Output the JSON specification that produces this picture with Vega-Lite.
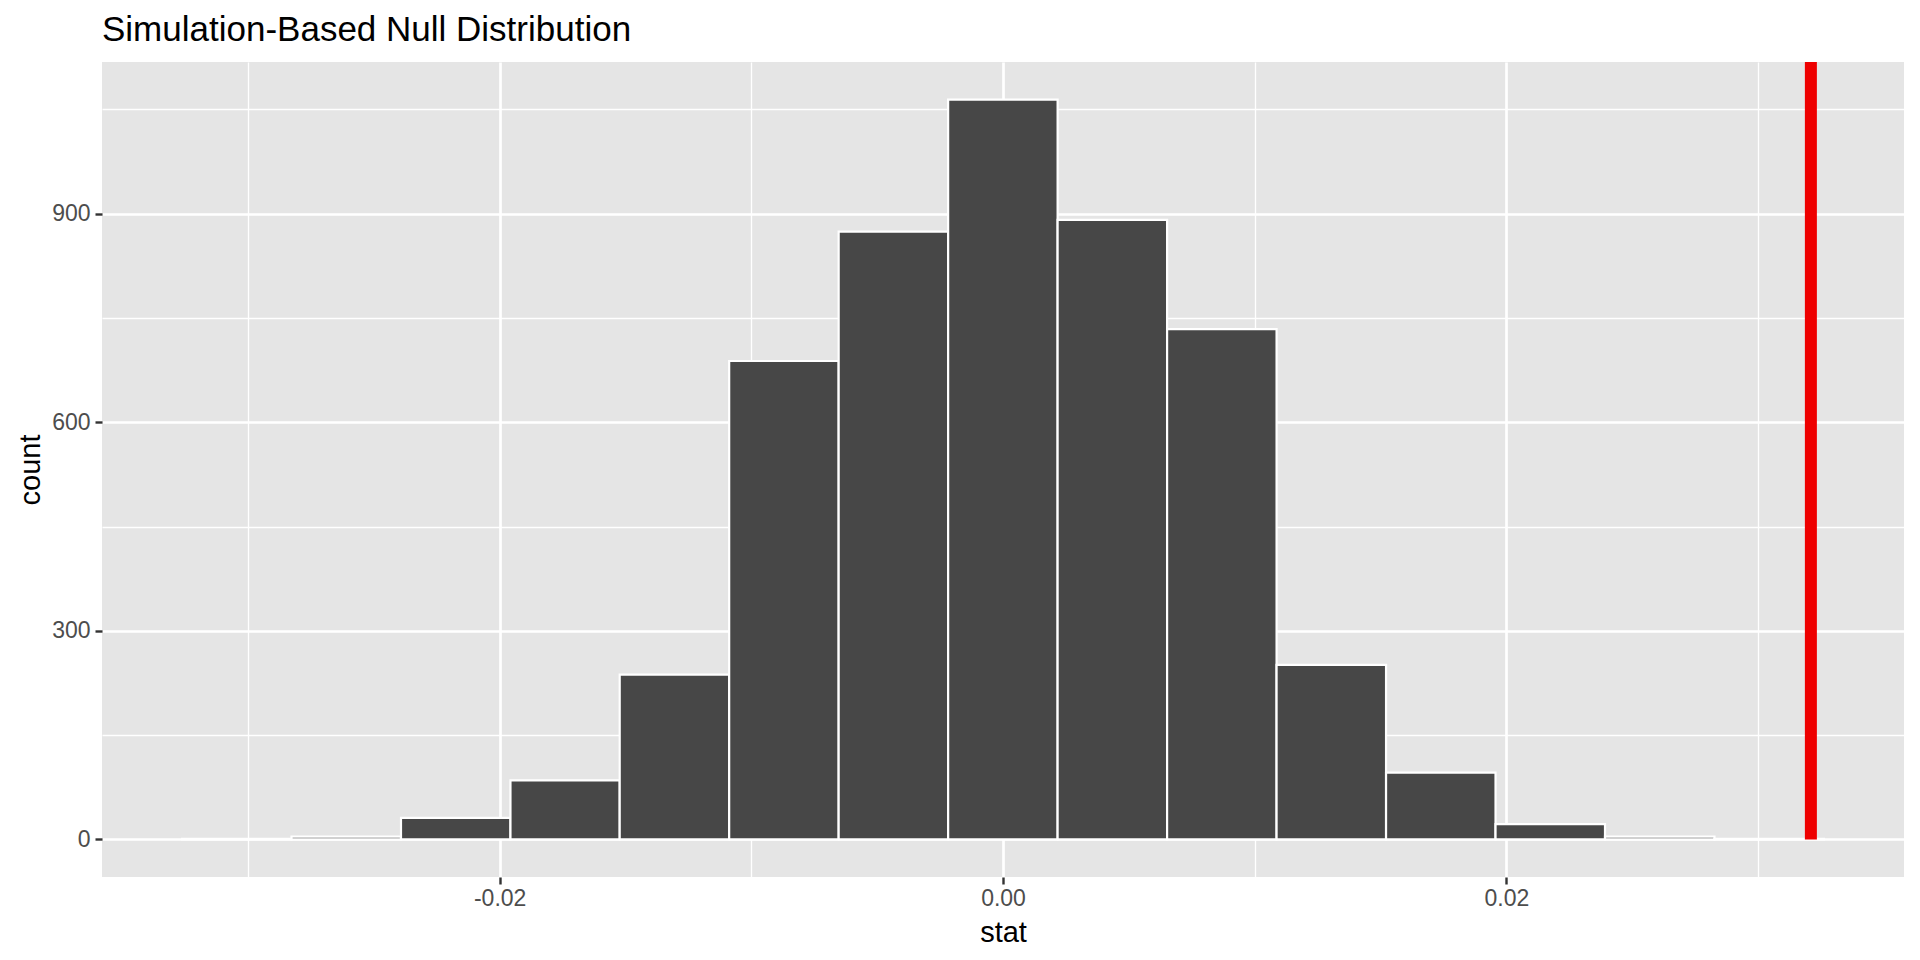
{
  "$schema": "https://vega.github.io/schema/vega-lite/v6.json",
  "description": "Simulation-based null distribution histogram with observed statistic.",
  "width": 1802,
  "height": 815,
  "autosize": "none",
  "padding": {"left": 102, "top": 62, "right": 16, "bottom": 83},
  "title": {
    "text": "Simulation-Based Null Distribution",
    "anchor": "start",
    "frame": "group",
    "offset": 8,
    "fontSize": 35,
    "fontWeight": "normal",
    "font": "Liberation Sans",
    "color": "#000000"
  },
  "datasets": {
    "bins": [
      {"bin_start": -0.03262, "bin_end": -0.02827, "count": 1},
      {"bin_start": -0.02827, "bin_end": -0.02392, "count": 4},
      {"bin_start": -0.02392, "bin_end": -0.01957, "count": 31},
      {"bin_start": -0.01957, "bin_end": -0.01523, "count": 85},
      {"bin_start": -0.01523, "bin_end": -0.01088, "count": 237},
      {"bin_start": -0.01088, "bin_end": -0.00653, "count": 688},
      {"bin_start": -0.00653, "bin_end": -0.00218, "count": 874},
      {"bin_start": -0.00218, "bin_end": 0.00217, "count": 1064},
      {"bin_start": 0.00217, "bin_end": 0.00652, "count": 891},
      {"bin_start": 0.00652, "bin_end": 0.01087, "count": 734},
      {"bin_start": 0.01087, "bin_end": 0.01522, "count": 251},
      {"bin_start": 0.01522, "bin_end": 0.01957, "count": 96},
      {"bin_start": 0.01957, "bin_end": 0.02392, "count": 22},
      {"bin_start": 0.02392, "bin_end": 0.02827, "count": 4},
      {"bin_start": 0.02827, "bin_end": 0.03262, "count": 1}
    ],
    "observed": [{"stat": 0.0321}]
  },
  "layer": [
    {
      "data": {"name": "bins"},
      "mark": {"type": "rect", "fill": "#474747", "stroke": "#FFFFFF", "strokeWidth": 2.2},
      "encoding": {
        "x": {
          "field": "bin_start",
          "type": "quantitative",
          "scale": {"domain": [-0.0358, 0.0358], "nice": false, "zero": false},
          "axis": {
            "title": "stat",
            "values": [-0.03, -0.02, -0.01, 0, 0.01, 0.02, 0.03],
            "labelExpr": "indexof([-0.02, 0, 0.02], datum.value) >= 0 ? replace(format(datum.value, '.2f'), '\u2212', '-') : ''",
            "gridWidth": {"condition": {"test": "indexof([-0.02, 0, 0.02], datum.value) >= 0", "value": 2.7}, "value": 1.3},
            "tickWidth": {"condition": {"test": "indexof([-0.02, 0, 0.02], datum.value) >= 0", "value": 2.4}, "value": 0},
            "labelPadding": 3,
            "titlePadding": 8
          }
        },
        "x2": {"field": "bin_end"},
        "y": {
          "field": "count",
          "type": "quantitative",
          "scale": {"domain": [-54, 1118], "nice": false, "zero": false},
          "axis": {
            "title": "count",
            "values": [0, 150, 300, 450, 600, 750, 900, 1050],
            "labelExpr": "datum.value % 300 == 0 ? datum.label : ''",
            "gridWidth": {"condition": {"test": "datum.value % 300 == 0", "value": 2.7}, "value": 1.3},
            "tickWidth": {"condition": {"test": "datum.value % 300 == 0", "value": 2.4}, "value": 0},
            "labelPadding": 5,
            "titlePadding": 6
          }
        },
        "y2": {"datum": 0}
      }
    },
    {
      "data": {"name": "observed"},
      "mark": {"type": "rule", "color": "#EE0000", "strokeWidth": 12},
      "encoding": {
        "x": {"field": "stat", "type": "quantitative"},
        "y": {"datum": 0, "type": "quantitative"},
        "y2": {"datum": 1118}
      }
    }
  ],
  "config": {
    "font": "Liberation Sans",
    "view": {"fill": "#E5E5E5", "stroke": null},
    "axis": {
      "grid": true,
      "gridColor": "#FFFFFF",
      "domain": false,
      "tickColor": "#333333",
      "tickSize": 7,
      "labelColor": "#4D4D4D",
      "labelFont": "Liberation Sans",
      "labelFontSize": 23,
      "titleFont": "Liberation Sans",
      "titleFontSize": 29,
      "titleFontWeight": "normal",
      "titleColor": "#000000"
    }
  }
}
